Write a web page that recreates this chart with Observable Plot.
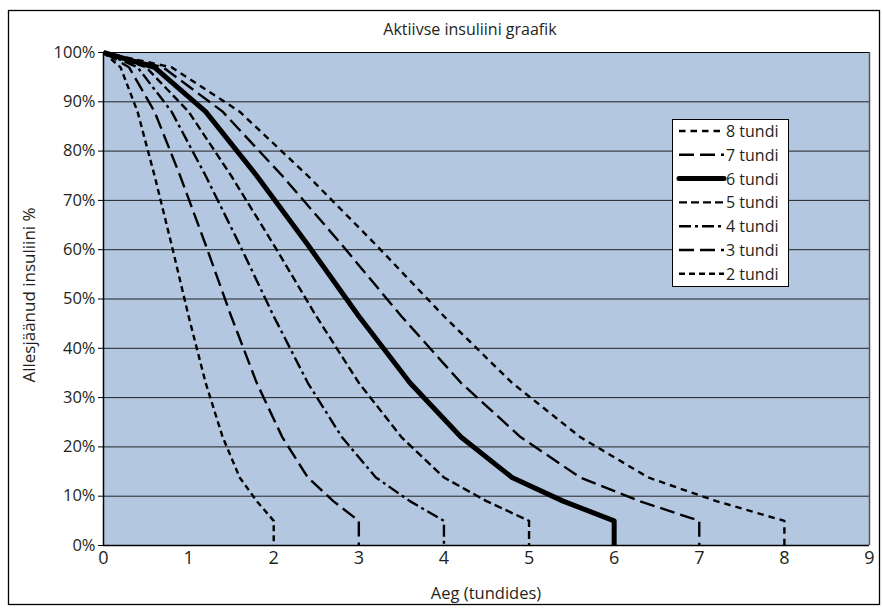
<!DOCTYPE html>
<html>
<head>
<meta charset="utf-8">
<script src="https://cdn.jsdelivr.net/npm/d3@7"></script>
<script src="https://cdn.jsdelivr.net/npm/@observablehq/plot@0.6"></script>
<style>
  html, body { margin: 0; padding: 0; background: #fff; }
  #chart { width: 882px; height: 614px; }
  svg text { font-family: "Open Sans", "Noto Sans", sans-serif; }
</style>
</head>
<body>
<div id="chart"></div>
<script>
// ---- Data ----
const title = "Aktiivse insuliini graafik";
const xLabel = "Aeg (tundides)";
const yLabel = "Allesjäänud insuliini %";

const seriesNames = ["8 tundi", "7 tundi", "6 tundi", "5 tundi", "4 tundi", "3 tundi", "2 tundi"];

const remaining = [100, 97, 88, 75, 61, 46.5, 33, 22, 13.8, 9, 5, 0];

const hours8 = [0, 0.8, 1.6, 2.4, 3.2, 4.0, 4.8, 5.6, 6.4, 7.2, 8, 8];
const hours7 = [0, 0.7, 1.4, 2.1, 2.8, 3.5, 4.2, 4.9, 5.6, 6.3, 7, 7];
const hours6 = [0, 0.6, 1.2, 1.8, 2.4, 3.0, 3.6, 4.2, 4.8, 5.4, 6, 6];
const hours5 = [0, 0.5, 1.0, 1.5, 2.0, 2.5, 3.0, 3.5, 4.0, 4.5, 5, 5];
const hours4 = [0, 0.4, 0.8, 1.2, 1.6, 2.0, 2.4, 2.8, 3.2, 3.6, 4, 4];
const hours3 = [0, 0.3, 0.6, 0.9, 1.2, 1.5, 1.8, 2.1, 2.4, 2.7, 3, 3];
const hours2 = [0, 0.2, 0.4, 0.6, 0.8, 1.0, 1.2, 1.4, 1.6, 1.8, 2, 2];

const xTicks = [0, 1, 2, 3, 4, 5, 6, 7, 8, 9];
const yTicks = [0, 10, 20, 30, 40, 50, 60, 70, 80, 90, 100];

// ---- Styles ----
const hoursBySeries = [hours8, hours7, hours6, hours5, hours4, hours3, hours2];
const dashes = ["6.5,5", "15,6", null, "8,4", "12,4,3,4", "15,6", "6,4"];
const widths = [2.4, 2.4, 5, 2.4, 2.4, 2.4, 2.4];

const W = 882, H = 614;
const bg = "#b3c7e0";
const ink = "#231f20";
const font = "'Open Sans', 'Noto Sans', sans-serif";

const lineMarks = seriesNames.map((name, i) => {
  const pts = hoursBySeries[i].map((t, k) => ({t, p: remaining[k], s: name}));
  return Plot.line(pts, {
    x: "t", y: "p",
    stroke: "black",
    strokeWidth: widths[i],
    strokeDasharray: dashes[i] || undefined,
    strokeLinejoin: "round",
    strokeLinecap: "butt"
  });
});

const plot = Plot.plot({
  width: W,
  height: H,
  marginLeft: 103,
  marginRight: 13,
  marginTop: 52,
  marginBottom: 69,
  style: {background: "white", fontFamily: font, fontSize: "16px", overflow: "visible"},
  x: {domain: [0, 9], ticks: xTicks},
  y: {domain: [0, 100], ticks: yTicks},
  marks: [
    Plot.frame({fill: bg}),
    Plot.gridY(yTicks, {stroke: "#111", strokeOpacity: 0.9, strokeWidth: 1}),
    ...lineMarks,
    Plot.axisX({ticks: xTicks, tickSize: 0, tickPadding: 6, fontSize: 18, fontFamily: font, fill: ink, label: null}),
    Plot.axisY({ticks: yTicks, tickSize: 5, tickPadding: 3, fontSize: 16.5, fontFamily: font, fill: ink, label: null,
                tickFormat: d => d + "%"}),
    Plot.ruleY([0], {stroke: "black", strokeWidth: 1.5}),
    Plot.ruleX([0], {stroke: "black", strokeWidth: 1.5}),
    Plot.ruleY([100], {stroke: "black", strokeWidth: 1.2}),
    Plot.ruleX([9], {stroke: "#555", strokeWidth: 1.5})
  ]
});

document.getElementById("chart").appendChild(plot);

const svg = d3.select(plot);

// ---- Decorations: outer frame, titles, legend ----
svg.insert("rect", ":first-child")
  .attr("x", 8.5).attr("y", 10.5).attr("width", 871).attr("height", 594)
  .attr("fill", "white").attr("stroke", "black").attr("stroke-width", 1.3);

svg.append("text")
  .attr("x", 470).attr("y", 35)
  .attr("text-anchor", "middle")
  .attr("font-size", 16).attr("fill", ink)
  .text(title);

svg.append("text")
  .attr("x", 486).attr("y", 599)
  .attr("text-anchor", "middle")
  .attr("font-size", 16.5).attr("fill", ink)
  .text(xLabel);

svg.append("text")
  .attr("transform", "translate(35,295) rotate(-90)")
  .attr("text-anchor", "middle")
  .attr("font-size", 17).attr("fill", ink)
  .text(yLabel);

const lg = svg.append("g");
lg.append("rect")
  .attr("x", 672.5).attr("y", 119.5).attr("width", 116).attr("height", 167)
  .attr("fill", "white").attr("stroke", "black").attr("stroke-width", 1);
seriesNames.forEach((name, i) => {
  const cy = 131 + i * 23.8;
  lg.append("line")
    .attr("x1", 679).attr("x2", 724).attr("y1", cy).attr("y2", cy)
    .attr("stroke", "black").attr("stroke-width", i === 2 ? 5 : 2.4)
    .attr("stroke-dasharray", dashes[i] || null)
    .attr("stroke-linecap", i === 2 ? "round" : "butt");
  lg.append("text")
    .attr("x", 726).attr("y", cy + 6)
    .attr("text-anchor", "start")
    .attr("font-size", 16).attr("fill", ink)
    .text(name);
});
</script>
</body>
</html>
